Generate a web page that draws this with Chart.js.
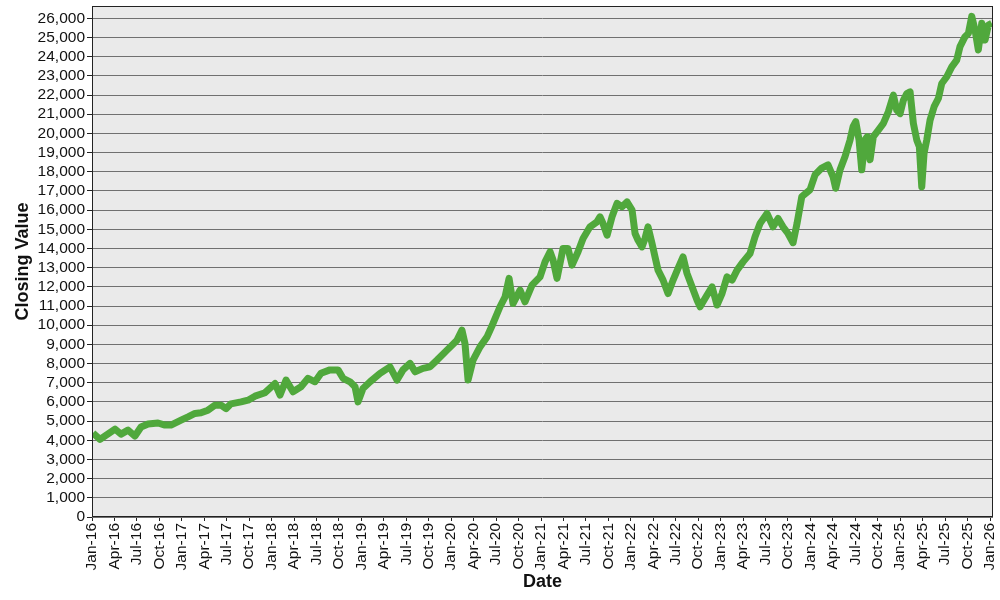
<!DOCTYPE html>
<html>
<head>
<meta charset="utf-8">
<script src="https://cdn.jsdelivr.net/npm/chart.js@4/dist/chart.umd.min.js"></script>
<style>
  body { margin: 0; background: #fff; }
  #wrap { width: 1000px; height: 600px; }
</style>
</head>
<body>
<div id="wrap"><canvas id="closingChart" width="1000" height="600"></canvas></div>
<script>
// Months since Jan 2016 (fractional) and closing values
const monthsSinceJan16 = [
  0.13, 1.07, 3.08, 3.88, 4.81, 5.74, 6.55, 7.49, 8.82, 9.75, 10.55, 11.9,
  12.83, 13.76, 14.56, 15.5, 16.44, 17.24, 17.91, 18.57, 19.92, 20.85, 21.78, 23.12,
  24.46, 25.13, 25.93, 26.86, 27.93, 28.87, 29.8, 30.6, 31.8, 32.88, 33.55, 34.48,
  35.15, 35.55, 36.21, 37.16, 38.49, 39.82, 40.76, 41.56, 42.5, 43.17, 44.23, 45.17,
  46.11, 47.44, 48.78, 49.44, 49.84, 50.25, 50.92, 51.85, 52.79, 53.59, 54.52, 55.2,
  55.73, 56.26, 57.2, 57.86, 58.8, 59.87, 60.54, 61.21, 61.61, 62.14, 62.94, 63.61,
  64.15, 64.95, 65.62, 66.55, 67.48, 67.88, 68.29, 68.83, 69.49, 70.16, 70.83, 71.49,
  72.17, 72.57, 72.97, 73.5, 73.9, 74.3, 74.84, 75.24, 75.64, 76.31, 76.98, 77.65,
  78.31, 78.98, 79.51, 80.18, 80.86, 81.26, 82.19, 82.86, 83.52, 84.19, 84.86, 85.53,
  86.2, 87, 87.93, 88.6, 89.27, 90.2, 91.01, 91.68, 92.34, 93.01, 93.68, 94.21,
  94.85, 95.95, 96.62, 97.51, 98.35, 99.02, 99.38, 99.96, 100.63, 101.3, 101.7, 102.06,
  102.5, 102.86, 103.3, 103.61, 103.97, 104.41, 105.08, 105.75, 106.41, 107.09, 107.54, 107.98,
  108.42, 108.88, 109.32, 109.76, 110.21, 110.56, 110.88, 111.19, 111.55, 111.99, 112.53, 113.1,
  113.55, 114.22, 114.89, 115.55, 115.99, 116.66, 117.11, 117.56, 118, 118.44, 118.9, 119.34,
  119.78, 120.23
];

const closingValues = [
  4380, 4050, 4580, 4320, 4530, 4220, 4690, 4850, 4900, 4790, 4790, 5050,
  5220, 5400, 5430, 5570, 5830, 5830, 5650, 5900, 6000, 6090, 6300, 6480,
  6960, 6360, 7140, 6530, 6790, 7230, 7050, 7490, 7670, 7670, 7230, 7050,
  6790, 6000, 6700, 7050, 7490, 7830, 7140, 7670, 8010, 7570, 7750, 7830,
  8180, 8700, 9220, 9740, 9050, 7140, 8180, 8870, 9390, 10090, 10960, 11480,
  12440, 11130, 11830, 11220, 12090, 12520, 13300, 13830, 13400, 12440, 14000, 14000,
  13130, 13830, 14520, 15130, 15390, 15650, 15300, 14690, 15650, 16350, 16170, 16430,
  16000, 14780, 14430, 14080, 14520, 15130, 14260, 13560, 12870, 12350, 11650, 12350,
  12960, 13560, 12700, 12000, 11300, 10960, 11570, 12000, 11050, 11650, 12520, 12350,
  12870, 13300, 13740, 14610, 15300, 15820, 15130, 15560, 15130, 14780, 14300, 15300,
  16700, 17060, 17840, 18190, 18360, 17750, 17140, 18100, 18790, 19660, 20350, 20610,
  19660, 18100, 19660, 19830, 18620, 19830, 20170, 20520, 21120, 21990, 21210, 21030,
  21720, 22070, 22160, 20520, 19660, 19300, 17210, 18970, 19660, 20690, 21390, 21820,
  22600, 22950, 23470, 23820, 24520, 25040, 25210, 26100, 25390, 24350, 25740, 24870,
  25650, 25740
];

// Quarterly tick labels (one every 3 months)
const tickLabels = [
  "Jan-16", "Apr-16", "Jul-16", "Oct-16", "Jan-17", "Apr-17", "Jul-17", "Oct-17",
  "Jan-18", "Apr-18", "Jul-18", "Oct-18", "Jan-19", "Apr-19", "Jul-19", "Oct-19",
  "Jan-20", "Apr-20", "Jul-20", "Oct-20", "Jan-21", "Apr-21", "Jul-21", "Oct-21",
  "Jan-22", "Apr-22", "Jul-22", "Oct-22", "Jan-23", "Apr-23", "Jul-23", "Oct-23",
  "Jan-24", "Apr-24", "Jul-24", "Oct-24", "Jan-25", "Apr-25", "Jul-25", "Oct-25",
  "Jan-26"
];

// Y ticks: 0 to 26,000 every 1,000
const yTickValues = [
  0, 1000, 2000, 3000, 4000, 5000, 6000, 7000, 8000, 9000, 10000, 11000, 12000, 13000,
  14000, 15000, 16000, 17000, 18000, 19000, 20000, 21000, 22000, 23000, 24000, 25000, 26000
];

const points = monthsSinceJan16.map((m, i) => ({ x: m, y: closingValues[i] }));

// Fond gris et cadre noir autour de la zone de tracé
const plotFrame = {
  id: "plotFrame",
  beforeDraw(chart) {
    const { ctx, chartArea: a } = chart;
    ctx.save();
    ctx.fillStyle = "#eaeaea";
    ctx.fillRect(a.left, a.top, a.right - a.left, a.bottom - a.top);
    ctx.restore();
  },
  afterDatasetsDraw(chart) {
    const { ctx, chartArea: a } = chart;
    ctx.save();
    ctx.strokeStyle = "#222";
    ctx.lineWidth = 1;
    ctx.strokeRect(a.left + 0.5, a.top + 0.5, a.right - a.left - 1, a.bottom - a.top - 1);
    ctx.restore();
  },
};

Chart.defaults.font.family = "'Liberation Sans', Arial, sans-serif";
Chart.defaults.color = "#111";

const ctx = document.getElementById("closingChart").getContext("2d");
new Chart(ctx, {
  type: "line",
  data: {
    datasets: [
      {
        label: "Closing Value",
        data: points,
        borderColor: "#50a83c",
        borderWidth: 7,
        borderJoinStyle: "round",
        pointRadius: 0,
        tension: 0,
        fill: false,
      },
    ],
  },
  options: {
    responsive: false,
    animation: false,
    devicePixelRatio: 1,
    layout: { padding: { left: 0, top: 6, right: 7, bottom: 0 } },
    plugins: {
      legend: { display: false },
      tooltip: { enabled: false },
    },
    scales: {
      x: {
        type: "linear",
        min: 0,
        max: 120.4,
        bounds: "data",
        afterFit(scale) {
          scale.height = 83;
          scale.paddingLeft = 0;
          scale.paddingRight = 0;
        },
        border: { display: false },
        grid: {
          drawOnChartArea: false,
          drawTicks: true,
          tickLength: 4,
          tickColor: "#222",
        },
        ticks: {
          stepSize: 3,
          includeBounds: false,
          autoSkip: false,
          minRotation: 90,
          maxRotation: 90,
          padding: 2,
          font: { size: 15.5 },
          callback: (value) => (value % 3 === 0 ? tickLabels[value / 3] : ""),
        },
        title: {
          display: true,
          text: "Date",
          font: { size: 18, weight: "bold" },
          padding: { top: 0, bottom: 7 },
        },
      },
      y: {
        min: 0,
        max: 26640,
        bounds: "data",
        afterFit(scale) {
          scale.width = 92;
          scale.paddingTop = 0;
          scale.paddingBottom = 0;
        },
        afterBuildTicks(scale) {
          scale.ticks = yTickValues.map((v) => ({ value: v }));
        },
        border: { display: false },
        grid: {
          color: "#707070",
          lineWidth: 1,
          tickLength: 5,
          tickColor: "#222",
        },
        ticks: {
          autoSkip: false,
          padding: 2,
          font: { size: 15.5 },
          callback: (value) => value.toLocaleString("en-US"),
        },
        title: {
          display: true,
          text: "Closing Value",
          font: { size: 18, weight: "bold" },
          padding: { top: 12, bottom: 0 },
        },
      },
    },
  },
  plugins: [plotFrame],
});
</script>
</body>
</html>
